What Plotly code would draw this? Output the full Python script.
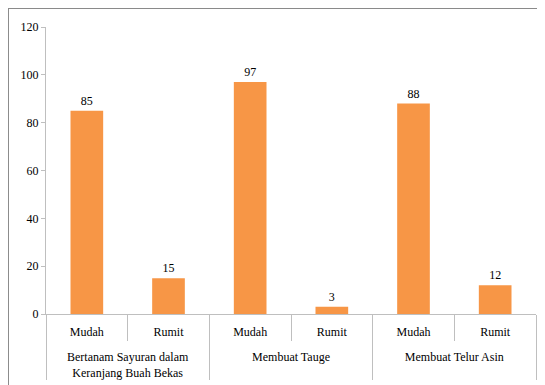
import plotly.graph_objects as go

groups = ["<br>Bertanam Sayuran dalam<br>Keranjang Buah Bekas", "<br>Bertanam Sayuran dalam<br>Keranjang Buah Bekas",
          "<br>Membuat Tauge", "<br>Membuat Tauge",
          "<br>Membuat Telur Asin", "<br>Membuat Telur Asin"]
levels = ["Mudah", "Rumit", "Mudah", "Rumit", "Mudah", "Rumit"]
values = [85, 15, 97, 3, 88, 12]
y_ticks = [0, 20, 40, 60, 80, 100, 120]

FONT = "Times New Roman, serif"

fig = go.Figure(go.Bar(
    x=[groups, levels], y=values,
    marker=dict(color="#F79646", line=dict(width=0)),
    text=[str(v) for v in values], textposition="outside",
    textfont=dict(family=FONT, size=12, color="#000000"),
    cliponaxis=False,
))

fig.update_layout(
    width=537, height=377,
    margin=dict(l=38, r=9, t=19, b=71),
    paper_bgcolor="white", plot_bgcolor="white",
    bargap=0.6, showlegend=False,
    font=dict(family=FONT, size=12, color="#000000"),
    shapes=[dict(type="rect", xref="paper", yref="paper",
                 x0=-0.0776, x1=1.05, y0=-0.3, y1=1.066,
                 line=dict(color="#8a8a8a", width=2), fillcolor="rgba(0,0,0,0)",
                 layer="below")],
)
fig.update_xaxes(
    type="multicategory", automargin=False,
    showline=True, linecolor="#BFBFBF", linewidth=1,
    ticks="outside", tickson="boundaries", ticklen=26, tickcolor="#BFBFBF",
    ticklabelstandoff=7,
    showdividers=True, dividercolor="#BFBFBF", dividerwidth=1,
    showgrid=False, tickfont=dict(family=FONT, size=12, color="#000000"),
)
fig.update_yaxes(
    range=[0, 120], tickvals=y_ticks, showgrid=False, zeroline=False,
    automargin=False,
    showline=True, linecolor="#BFBFBF", linewidth=1,
    ticks="outside", ticklen=4, tickcolor="#BFBFBF",
    tickfont=dict(family=FONT, size=12, color="#000000"),
)

fig.write_html("out.html")
